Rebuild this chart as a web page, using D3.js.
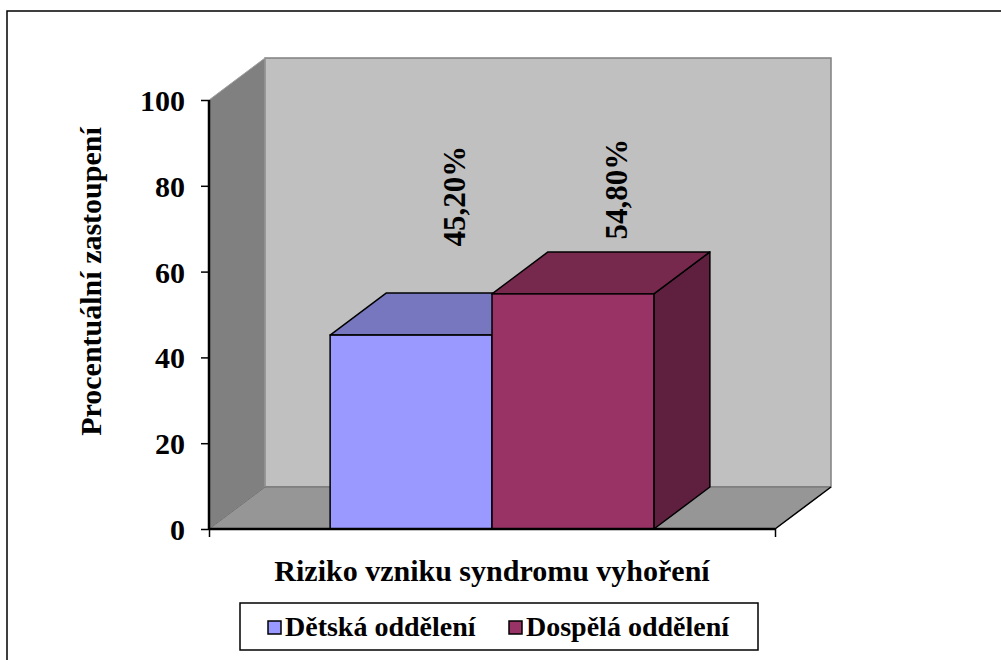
<!DOCTYPE html>
<html>
<head>
<meta charset="utf-8">
<script src="https://cdn.jsdelivr.net/npm/d3@7"></script>
<style>
  body { margin: 0; background: #fff; }
  text { font-family: "Liberation Serif", "Times New Roman", serif; font-weight: bold; }
</style>
</head>
<body>
<div id="chart"></div>
<script>
// data
const category = "Riziko vzniku syndromu vyhoření";
const series = ["Dětská oddělení", "Dospělá oddělení"];
const values = [45.2, 54.8];
const valueLabels = ["45,20%", "54,80%"];
const yTicks = [0, 20, 40, 60, 80, 100];

const frontColors = ["#9999ff", "#993366"];
const topColors = ["#7777c0", "#77284d"];
const sideColors = ["#5c5c99", "#5f1f3f"];

const W = 1001, H = 660;
// plot box (front plane)
const x0 = 209, x1 = 775, yBottom = 529, yTop = 100;
// depth offset of the 3d box
const ddx = 56, ddy = 42;

let svg = d3.select("#chart").append("svg")
    .attr("width", W)
    .attr("height", H);

// outer frame (runs off the right and bottom edge)
svg.append("rect")
    .attr("x", 7).attr("y", 11)
    .attr("width", W + 20).attr("height", H + 20)
    .attr("fill", "white")
    .attr("stroke", "black")
    .attr("stroke-width", 1.5);

let y = d3.scaleLinear().domain([0, 100]).range([yBottom, yTop]);

let xCat = d3.scaleBand().domain([category]).range([x0, x1]).paddingInner(0).paddingOuter(0);
// bars take the middle part of the category
let x = d3.scaleBand()
    .domain(series)
    .range([xCat(category) + xCat.bandwidth() * 0.214, xCat(category) + xCat.bandwidth() * 0.786])
    .padding(0);

// project a point on the front plane back by depth d (0..1)
const P = (px, py, d) => [px + ddx * d, py - ddy * d];
const poly = pts => pts.map(p => p.join(",")).join(" ");

// walls
let walls = svg.append("g");
// back wall
walls.append("polygon")
    .attr("points", poly([P(x0, y(0), 1), P(x0, y(100), 1), P(x1, y(100), 1), P(x1, y(0), 1)]))
    .attr("fill", "#c0c0c0")
    .attr("stroke", "#808080").attr("stroke-width", 1.5);
// side wall
walls.append("polygon")
    .attr("points", poly([P(x0, y(0), 0), P(x0, y(100), 0), P(x0, y(100), 1), P(x0, y(0), 1)]))
    .attr("fill", "#808080")
    .attr("stroke", "#a0a0a0").attr("stroke-width", 1);
// floor
walls.append("polygon")
    .attr("points", poly([P(x0, y(0), 0), P(x1, y(0), 0), P(x1, y(0), 1), P(x0, y(0), 1)]))
    .attr("fill", "#969696")
    .attr("stroke", "#707070").attr("stroke-width", 1);
// floor right edge
walls.append("line")
    .attr("x1", x1).attr("y1", y(0))
    .attr("x2", P(x1, y(0), 1)[0]).attr("y2", P(x1, y(0), 1)[1])
    .attr("stroke", "black").attr("stroke-width", 1.5);

// bars
let bars = svg.append("g")
    .selectAll("g")
    .data(series)
    .join("g");

bars.append("polygon") // side
    .attr("points", (d, i) => {
        let r = x(d) + x.bandwidth();
        return poly([P(r, y(values[i]), 0), P(r, y(values[i]), 1), P(r, y(0), 1), P(r, y(0), 0)]);
    })
    .attr("fill", (d, i) => sideColors[i])
    .attr("stroke", "black").attr("stroke-width", 1.5).attr("stroke-linejoin", "round");

bars.append("polygon") // top
    .attr("points", (d, i) => {
        let l = x(d), r = x(d) + x.bandwidth(), t = y(values[i]);
        return poly([P(l, t, 0), P(l, t, 1), P(r, t, 1), P(r, t, 0)]);
    })
    .attr("fill", (d, i) => topColors[i])
    .attr("stroke", "black").attr("stroke-width", 1.5).attr("stroke-linejoin", "round");

bars.append("rect") // front
    .attr("x", d => x(d))
    .attr("y", (d, i) => y(values[i]))
    .attr("width", x.bandwidth())
    .attr("height", (d, i) => y(0) - y(values[i]))
    .attr("fill", (d, i) => frontColors[i])
    .attr("stroke", "black").attr("stroke-width", 1.5);

// value labels (rotated), placed above the bar, part way back in depth
svg.append("g")
    .selectAll("text")
    .data(series)
    .join("text")
    .attr("transform", (d, i) => {
        let [lx, ly] = P(x(d) + x.bandwidth() / 2, y(70 + values[i] * 0.17), 0.8);
        return `translate(${lx - 2},${ly + 34}) rotate(-90)`;
    })
    .attr("text-anchor", "middle")
    .attr("dy", "0.35em")
    .attr("font-size", 31)
    .text((d, i) => valueLabels[i]);

// y axis
let yAxis = svg.append("g")
    .attr("transform", `translate(${x0},0)`)
    .call(d3.axisLeft(y).tickValues(yTicks).tickSize(8).tickPadding(16));
yAxis.select(".domain").attr("stroke", "black").attr("stroke-width", 2.5).attr("d", `M0,${y(0)}V${y(100)}`);
yAxis.selectAll(".tick line").attr("stroke", "black").attr("stroke-width", 1.5);
yAxis.selectAll(".tick text")
    .attr("font-size", 30)
    .attr("font-family", "Liberation Serif")
    .attr("font-weight", "bold")
    .attr("fill", "black")
    .attr("dy", "0.35em");

// x axis line + end ticks
let xAxis = svg.append("g")
    .attr("transform", `translate(0,${y(0)})`)
    .call(d3.axisBottom(d3.scaleLinear().domain([0, 1]).range([x0, x1])).tickValues([0, 1]).tickSize(8).tickFormat(""));
xAxis.select(".domain").attr("stroke", "black").attr("stroke-width", 2.5).attr("d", `M${x0},0H${x1}`);
xAxis.selectAll(".tick line").attr("stroke", "black").attr("stroke-width", 1.5);

// axis titles
svg.append("text")
    .attr("transform", `translate(101,${(y(0) + y(100)) / 2 - 33}) rotate(-90)`)
    .attr("text-anchor", "middle")
    .attr("font-size", 30)
    .text("Procentuální zastoupení");

svg.append("text")
    .attr("x", (x0 + x1) / 2)
    .attr("y", 581)
    .attr("text-anchor", "middle")
    .attr("font-size", 30)
    .text(category);

// legend
let legend = svg.append("g");
legend.append("rect")
    .attr("x", 240).attr("y", 603)
    .attr("width", 518).attr("height", 47)
    .attr("fill", "white")
    .attr("stroke", "black").attr("stroke-width", 1.5);

let lx = d3.scaleOrdinal().domain(series).range([268, 509]);
let items = legend.selectAll("g.item")
    .data(series)
    .join("g")
    .attr("class", "item")
    .attr("transform", d => `translate(${lx(d)},621)`);
items.append("rect")
    .attr("width", 13).attr("height", 13)
    .attr("fill", (d, i) => frontColors[i])
    .attr("stroke", "black").attr("stroke-width", 1.5);
items.append("text")
    .attr("x", 17)
    .attr("y", 15)
    .attr("font-size", 28)
    .text(d => d);
</script>
</body>
</html>
